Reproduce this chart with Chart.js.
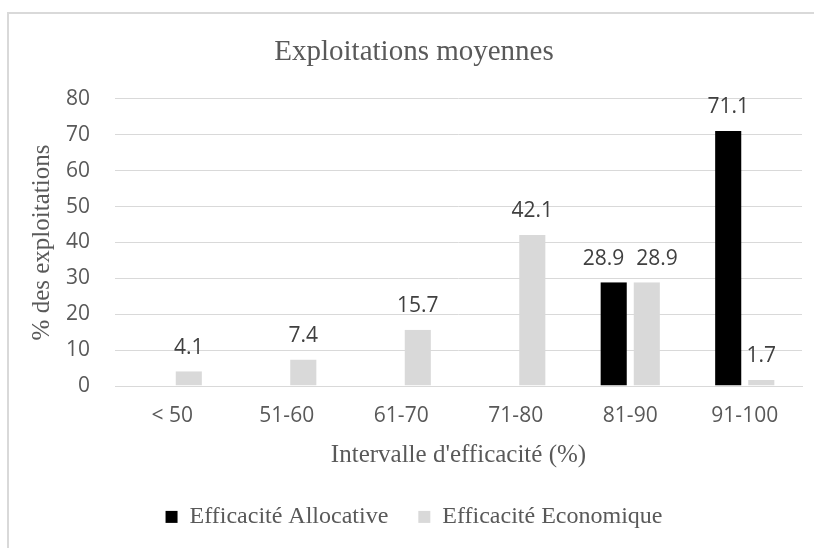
<!DOCTYPE html>
<html><head><meta charset="utf-8">
<script src="https://cdn.jsdelivr.net/npm/chart.js@4.4.1/dist/chart.umd.min.js"></script>
<style>html,body{margin:0;padding:0;background:#fff;} #wrap{position:relative;width:814px;height:548px;} canvas{display:block;}</style>
</head><body><div id="wrap"><canvas id="c" width="814" height="548"></canvas></div>
<script>
const categories = ['< 50', '51-60', '61-70', '71-80', '81-90', '91-100'];
const allocative = [null, null, null, null, 28.9, 71.1];
const economique = [4.1, 7.4, 15.7, 42.1, 28.9, 1.7];
const seriesNames = ['Efficacité Allocative', 'Efficacité Economique'];
const yMin = 0, yMax = 80, yStep = 10;
const chartTitle = 'Exploitations moyennes';
const xTitle = "Intervalle d'efficacité (%)";
const yTitle = '% des exploitations';

const SANS = '"Open Sans", sans-serif';
const SERIF = '"Liberation Serif", "Times New Roman", serif';

const framePlugin = {
  id: 'frame',
  beforeDraw(chart) {
    const ctx = chart.ctx;
    ctx.save();
    ctx.fillStyle = '#ffffff';
    ctx.fillRect(0, 0, chart.width, chart.height);
    ctx.fillStyle = '#d9d9d9';
    ctx.fillRect(7, 12, 2, chart.height - 12);
    ctx.fillRect(7, 12, chart.width - 7, 2);
    ctx.restore();
  }
};

const labelPlugin = {
  id: 'vals',
  afterDatasetsDraw(chart) {
    const ctx = chart.ctx;
    ctx.save();
    ctx.font = '21px ' + SANS;
    ctx.fillStyle = '#404040';
    ctx.textAlign = 'center';
    ctx.textBaseline = 'alphabetic';
    const n = chart.data.labels.length;
    for (let i = 0; i < n; i++) {
      const items = [];
      chart.data.datasets.forEach((ds, d) => {
        const v = ds.data[i];
        if (v === null || v === undefined) return;
        const el = chart.getDatasetMeta(d).data[i];
        const t = v.toFixed(1);
        items.push({x: el.x, y: el.y - 17.5, t, w: ctx.measureText(t).width});
      });
      for (let k = 1; k < items.length; k++) {
        const a = items[k - 1], b = items[k];
        const need = (a.w + b.w) / 2 + 12;
        if (Math.abs(a.y - b.y) < 20 && b.x - a.x < need) {
          const s = (need - (b.x - a.x)) / 2;
          a.x -= s; b.x += s;
        }
      }
      items.forEach(it => ctx.fillText(it.t, it.x, it.y));
    }
    ctx.restore();
  }
};

const barBorder = {left: 3.5, right: 3.5, top: 0, bottom: 0};

new Chart(document.getElementById('c'), {
  type: 'bar',
  data: {
    labels: categories,
    datasets: [
      {label: seriesNames[0], data: allocative, backgroundColor: '#000000', borderColor: 'rgba(0,0,0,0)', borderWidth: barBorder, borderSkipped: false},
      {label: seriesNames[1], data: economique, backgroundColor: '#d9d9d9', borderColor: 'rgba(0,0,0,0)', borderWidth: barBorder, borderSkipped: false}
    ]
  },
  options: {
    responsive: false,
    animation: false,
    devicePixelRatio: 1,
    layout: {padding: {left: 26, right: 12, top: 0, bottom: 9.1}},
    datasets: {bar: {categoryPercentage: 0.578, barPercentage: 1}},
    plugins: {
      title: {
        display: true, text: chartTitle, color: '#595959',
        font: {family: SERIF, size: 29, weight: 'normal', lineHeight: 1.2},
        padding: {top: 34.8, bottom: 29.4}
      },
      legend: {
        display: true, position: 'bottom',
        labels: {
          color: '#595959', boxWidth: 12, boxHeight: 12, padding: 30,
          font: {family: SERIF, size: 24, lineHeight: 1.2}
        }
      },
      tooltip: {enabled: false}
    },
    scales: {
      x: {
        grid: {display: false, drawTicks: false},
        border: {display: true, color: '#d9d9d9', width: 1},
        ticks: {color: '#595959', font: {family: SANS, size: 21}, padding: 17.4, maxRotation: 0},
        title: {display: true, text: xTitle, color: '#595959', font: {family: SERIF, size: 25, lineHeight: 1.2}, padding: {top: 0, bottom: 4.3}},
        afterFit(scale) { scale.height = 88.9; }
      },
      y: {
        min: yMin, max: yMax,
        grid: {color: '#d9d9d9', lineWidth: 1, drawTicks: false},
        border: {display: false},
        ticks: {stepSize: yStep, color: '#595959', font: {family: SANS, size: 21}, padding: 25},
        title: {display: true, text: yTitle, color: '#595959', font: {family: SERIF, size: 25, lineHeight: 1.2}, padding: {top: 1, bottom: 0}},
        afterFit(scale) { scale.width = 89; }
      }
    }
  },
  plugins: [framePlugin, labelPlugin]
});
</script>
</body></html>
